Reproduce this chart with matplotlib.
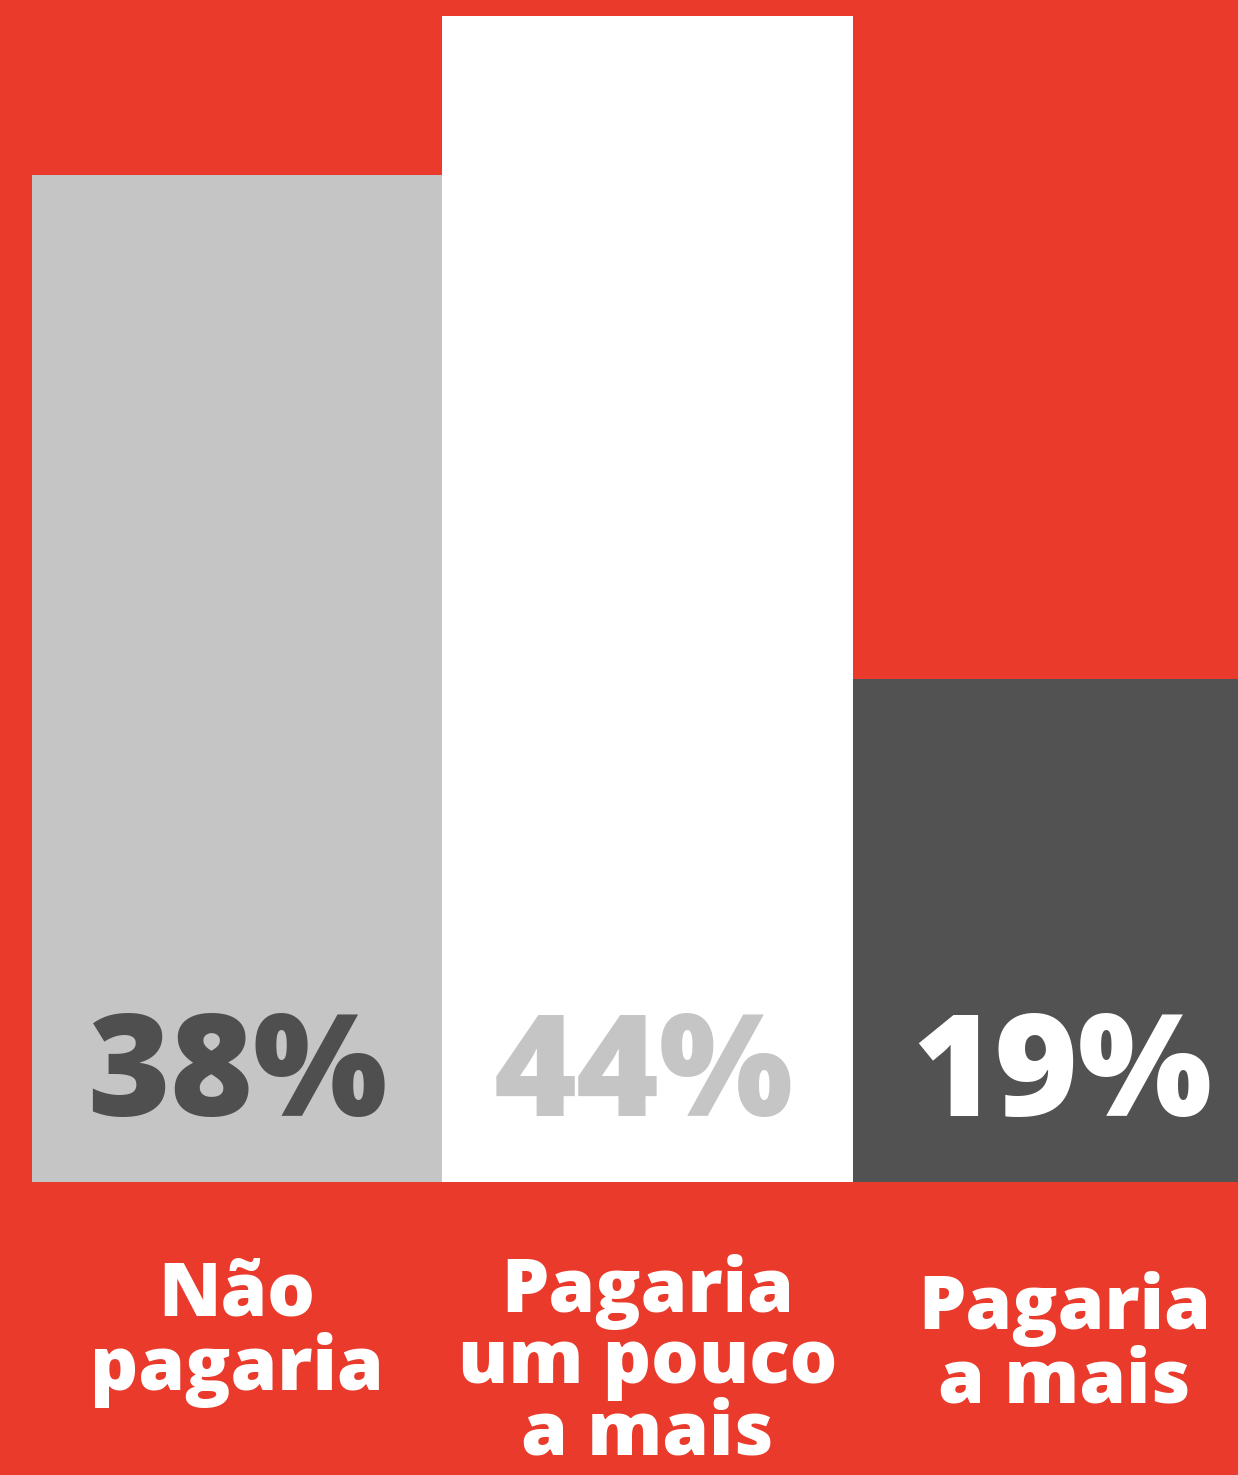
import matplotlib
matplotlib.use('Agg')
import matplotlib.pyplot as plt

categories = ['Não\npagaria', 'Pagaria\num pouco\na mais', 'Pagaria\na mais']
values = [38, 44, 19]
value_labels = ['38%', '44%', '19%']

bg_color = '#E93A2B'
bar_colors = ['#C5C5C5', '#FFFFFF', '#525252']
text_colors = ['#4F4F4F', '#C5C5C5', '#FFFFFF']


def main():
    W, H = 1238, 1475
    fig = plt.figure(figsize=(W / 100, H / 100), dpi=100)
    fig.patch.set_facecolor(bg_color)

    # axes from bar base (1182 px from top) up to the top edge
    base = 1182
    ax = fig.add_axes([0, (H - base) / H, 1, base / H])
    ax.set_facecolor(bg_color)

    bar_w = 410.5
    c0 = 237
    ax.set_xlim(-c0 / bar_w, (W - c0) / bar_w)
    ax.set_ylim(0, base / 26.5)

    x = range(len(values))
    ax.bar(x, values, width=1.0, color=bar_colors, linewidth=0)

    offsets = [0, -0.01, 0.01]
    for i, (lab, col) in enumerate(zip(value_labels, text_colors)):
        ax.text(i + offsets[i], 3.87, lab, ha='center', va='center',
                fontsize=102, fontweight='heavy', family='Open Sans', color=col)

    ax.axis('off')

    # category labels below the bars
    label_off = [0, 0, 0.015]
    label_y = [1258, 1254, 1271]
    spacing = [0.98, 0.93, 0.98]
    for i, cat in enumerate(categories):
        xf = (c0 + (i + label_off[i]) * bar_w) / W
        fig.text(xf, 1 - label_y[i] / H, cat, ha='center', va='top',
                 fontsize=54, fontweight='heavy', family='Open Sans',
                 color='white', linespacing=spacing[i])

    fig.savefig('out.png', dpi=100, facecolor=bg_color)


if __name__ == "__main__": main()
